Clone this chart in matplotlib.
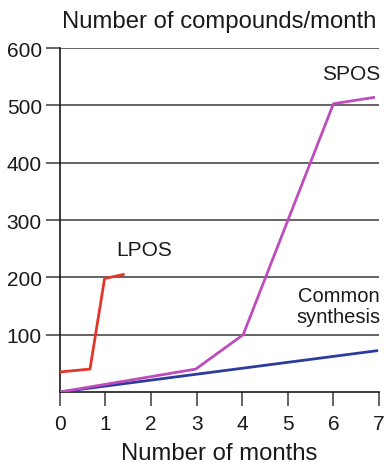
import matplotlib
matplotlib.use('Agg')
import matplotlib.pyplot as plt

plt.rcParams['font.family'] = ['Liberation Sans', 'DejaVu Sans']

# ── Data ──────────────────────────────────────────────────────
lpos_months = [0, 0.66, 0.98, 1.39]
lpos_counts = [35, 40, 198, 205]

spos_months = [0, 2.98, 4.02, 6.0, 6.88]
spos_counts = [0, 40, 100, 503, 514]

common_months = [0, 6.95]
common_counts = [0, 72]

x_ticks = [0, 1, 2, 3, 4, 5, 6, 7]
y_ticks = [100, 200, 300, 400, 500, 600]

# ── Plot ──────────────────────────────────────────────────────
fig = plt.figure(figsize=(3.84, 4.64), dpi=100)
ax = fig.add_axes([0.156, 0.153, 0.831, 0.741])

for y in y_ticks:
    ax.axhline(y, color='#3a3a3a', linewidth=1.1, zorder=1)

ax.plot(common_months, common_counts, color='#2b3c9e', linewidth=2.0, zorder=3)
ax.plot(spos_months, spos_counts, color='#bf4cbd', linewidth=2.0, zorder=4)
ax.plot(lpos_months, lpos_counts, color='#e2362a', linewidth=2.0, zorder=4)

ax.set_xlim(0, 7)
ax.set_ylim(0, 600)
ax.set_xticks(x_ticks)
ax.set_yticks(y_ticks)
ax.tick_params(axis='both', direction='out', length=10, width=1.1,
               color='#3a3a3a', labelsize=15, labelcolor='#1a1a1a')
ax.tick_params(axis='x', pad=6)
ax.tick_params(axis='y', pad=3)

for side in ['top', 'right']:
    ax.spines[side].set_visible(False)
for side in ['left', 'bottom']:
    ax.spines[side].set_color('#1a1a1a')
    ax.spines[side].set_linewidth(1.2)

# series labels
ax.text(1.85, 248, 'LPOS', fontsize=15, ha='center', va='center', color='#1a1a1a')
ax.text(6.4, 555, 'SPOS', fontsize=15, ha='center', va='center', color='#1a1a1a')
ax.text(6.12, 168, 'Common', fontsize=14.5, ha='center', va='center', color='#1a1a1a')
ax.text(6.12, 131, 'synthesis', fontsize=14.5, ha='center', va='center', color='#1a1a1a')

fig.text(0.572, 0.953, 'Number of compounds/month', fontsize=17.2,
         ha='center', va='center', color='#1a1a1a')
fig.text(0.572, 0.022, 'Number of months', fontsize=17.2,
         ha='center', va='center', color='#1a1a1a')

plt.savefig('out.png', dpi=100)
plt.close()
